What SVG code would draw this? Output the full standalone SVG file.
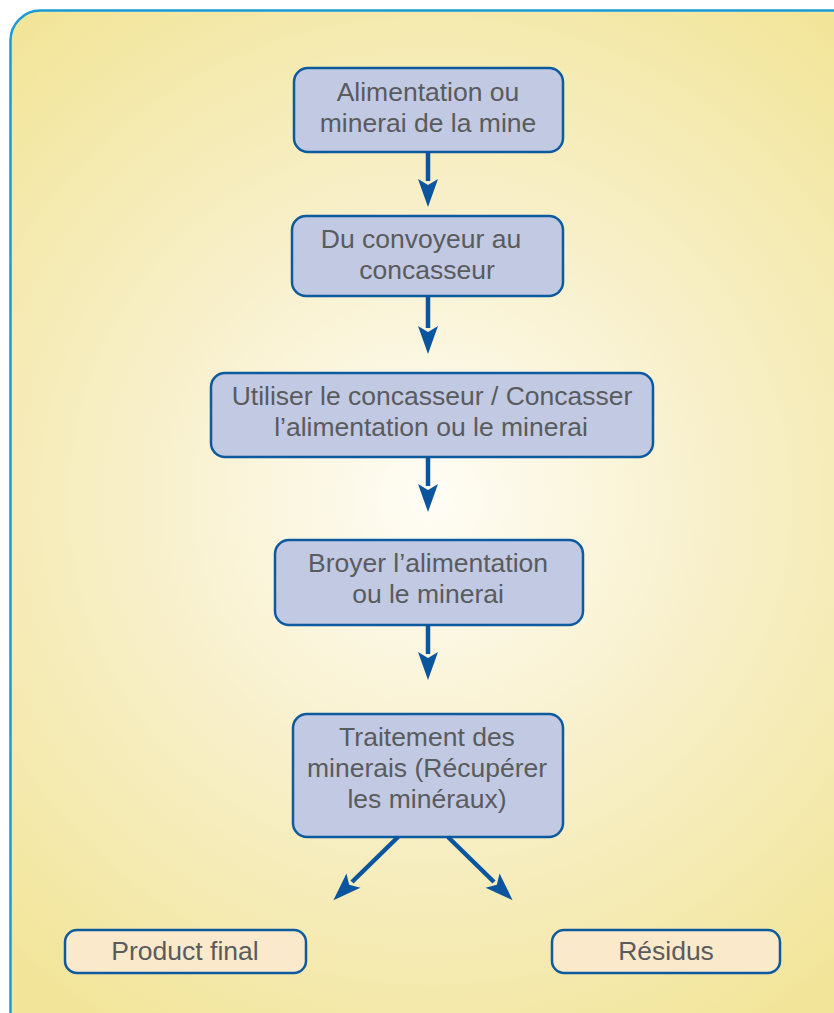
<svg xmlns="http://www.w3.org/2000/svg" width="834" height="1013" viewBox="0 0 834 1013">
<defs>
<radialGradient id="bg" cx="430" cy="500" r="620" gradientUnits="userSpaceOnUse">
<stop offset="0" stop-color="#fffdf6"/>
<stop offset="0.45" stop-color="#f8f0cc"/>
<stop offset="1" stop-color="#f2e59a"/>
</radialGradient>
<marker id="ah" markerUnits="userSpaceOnUse" markerWidth="32" markerHeight="24" viewBox="-4 -12 32 24" refX="0" refY="0" orient="auto">
<path d="M-2,-10 L26,0 L-2,10 L4,0 Z" fill="#0b559f"/>
</marker>
<style>
.n rect{fill:#c2c9e3;stroke:#0d5a9f;stroke-width:2.5}
.f rect{fill:#fbe9cc;stroke:#0d5a9f;stroke-width:2.5}
text{font-family:"Liberation Sans",Arial,sans-serif;font-size:26.5px;fill:#5a5b5d;text-anchor:middle}
.c line{stroke:#0b559f;stroke-width:4.5;marker-end:url(#ah)}
</style>
</defs>
<rect x="0" y="0" width="834" height="1013" fill="#ffffff"/>
<rect x="10.5" y="10.5" width="860" height="1040" rx="30" fill="url(#bg)" stroke="#1a9ad6" stroke-width="2.5"/>
<g id="n1" class="n"><rect x="294" y="68" width="269" height="84" rx="14"/><text x="428" y="101">Alimentation ou</text><text x="428" y="132">minerai de la mine</text></g>
<g id="n2" class="n"><rect x="292" y="216" width="271" height="80" rx="14"/><text x="421" y="248">Du convoyeur au</text><text x="427" y="279">concasseur</text></g>
<g id="n3" class="n"><rect x="211" y="373" width="442" height="84" rx="14"/><text x="432" y="405">Utiliser le concasseur / Concasser</text><text x="431" y="436">l’alimentation ou le minerai</text></g>
<g id="n4" class="n"><rect x="275" y="540" width="308" height="85" rx="14"/><text x="428" y="572">Broyer l’alimentation</text><text x="428" y="603">ou le minerai</text></g>
<g id="n5" class="n"><rect x="293" y="714" width="270" height="123" rx="14"/><text x="427" y="746">Traitement des</text><text x="427" y="777">minerais (Récupérer</text><text x="427" y="808">les minéraux)</text></g>
<g id="n6" class="f"><rect x="65" y="930" width="241" height="43" rx="12"/><text x="185" y="960">Product final</text></g>
<g id="n7" class="f"><rect x="552" y="930" width="228" height="43" rx="12"/><text x="666" y="960">Résidus</text></g>
<g id="connectors" class="c">
<line x1="428" y1="152" x2="428" y2="181"/>
<line x1="428" y1="296" x2="428" y2="328"/>
<line x1="428" y1="457" x2="428" y2="486"/>
<line x1="428" y1="625" x2="428" y2="654"/>
<line x1="398" y1="837" x2="352" y2="882"/>
<line x1="448" y1="837" x2="494" y2="882"/>
</g>
</svg>
